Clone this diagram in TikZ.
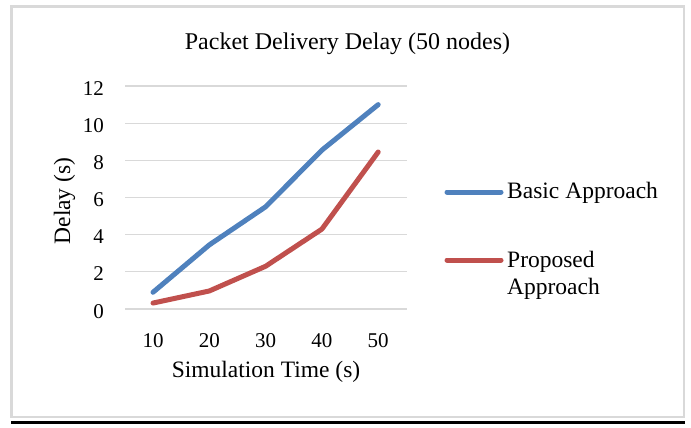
\documentclass[tikz,border=0pt]{standalone}
\usepackage{fontspec}
\setmainfont{Liberation Serif}
\definecolor{seriesA}{HTML}{4F81BD}
\definecolor{seriesB}{HTML}{C0504D}
\definecolor{gridgray}{HTML}{D9D9D9}
\begin{document}
\begin{tikzpicture}[x=1pt,y=-1pt,
  frame/.style={draw=gridgray,line width=2.5pt},
  gridline/.style={draw=gridgray,line width=1.2pt},
  series/.style={line width=5pt,line cap=round,line join=round},
  ticklbl/.style={inner sep=0pt,font=\fontsize{21}{24}\selectfont},
  axtitle/.style={inner sep=0pt,font=\fontsize{23.5}{27}\selectfont},
  legtext/.style={inner sep=0pt,anchor=base west,align=left,
    font=\fontsize{23.5}{27}\selectfont},
  titletext/.style={inner sep=0pt,font=\fontsize{24}{28}\selectfont}]
\useasboundingbox (0,0) rectangle (691,428);
% chart frame and bottom rule
\draw[frame] (11.3,6.5) rectangle (683.8,416.8);
\draw[line width=3pt] (11,422.5) -- (685,422.5);
% title
\node[titletext,anchor=base] (title) at (347.5,50) {Packet Delivery Delay (50 nodes)};
% horizontal grid and value labels
\foreach \v in {0,2,...,12}{
  \draw[gridline] (125,{309-18.58*\v}) -- (407,{309-18.58*\v});
  \node[ticklbl,anchor=base east] (y\v) at (104,{318-18.58*\v}) {\v};
}
% category labels
\foreach \c [count=\i from 0] in {10,20,30,40,50}{
  \node[ticklbl,anchor=base] (x\c) at ({153+56.3*\i},347) {\c};
}
% axis titles
\node[axtitle,anchor=base] (xtitle) at (266,377) {Simulation Time (s)};
\node[axtitle,anchor=base,rotate=90] (ytitle) at (70,201) {Delay (s)};
% data series
\draw[series,seriesA] (153,{309-18.58*0.9}) -- (209.3,{309-18.58*3.45})
  -- (265.6,{309-18.58*5.5}) -- (321.9,{309-18.58*8.55}) -- (378.2,{309-18.58*11});
\draw[series,seriesB] (153,{309-18.58*0.32}) -- (209.3,{309-18.58*0.97})
  -- (265.6,{309-18.58*2.3}) -- (321.9,{309-18.58*4.3}) -- (378.2,{309-18.58*8.45});
% legend
\coordinate (la1) at (447,192);
\coordinate (la2) at (501,192);
\coordinate (lb1) at (447,260);
\coordinate (lb2) at (501,260);
\draw[series,seriesA] (la1) -- (la2);
\draw[series,seriesB] (lb1) -- (lb2);
\node[legtext] (legA) at (507,198) {Basic Approach};
% the last line of a multi-line node carries its baseline
\node[legtext] (legB) at (507,294) {Proposed\\Approach};
\end{tikzpicture}
\end{document}
